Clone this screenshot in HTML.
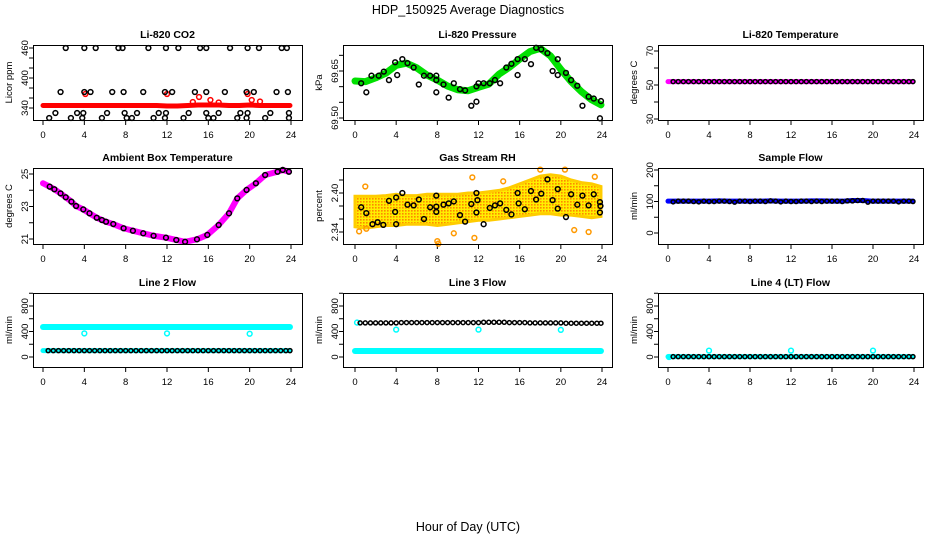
<!DOCTYPE html>
<html><head><meta charset="utf-8"><title>HDP_150925 Average Diagnostics</title>
<style>
html,body{margin:0;padding:0;background:#fff;}
svg{display:block;font-family:"Liberation Sans","DejaVu Sans",sans-serif;}
</style></head>
<body>
<svg id="chart" width="936" height="540" viewBox="0 0 936 540" xmlns="http://www.w3.org/2000/svg">
<defs>
<pattern id="rhpat" width="3" height="3" patternUnits="userSpaceOnUse">
<rect width="3" height="3" fill="#ffee00"/><rect x="0" y="0" width="1.6" height="1.6" fill="#ff8800"/>
</pattern>
</defs>
<rect width="936" height="540" fill="#fff"/>
<text x="468" y="14" font-size="12.5" text-anchor="middle">HDP_150925  Average Diagnostics</text>
<text x="468" y="531" font-size="12.5" text-anchor="middle">Hour of Day (UTC)</text>
</svg>
<script>
// ---------- data ----------
const xTicks = [0,4,8,12,16,20,24];
const halfH = [0.5,1,1.5,2,2.5,3,3.5,4,4.5,5,5.5,6,6.5,7,7.5,8,8.5,9,9.5,10,10.5,11,11.5,12,12.5,13,13.5,14,14.5,15,15.5,16,16.5,17,17.5,18,18.5,19,19.5,20,20.5,21,21.5,22,22.5,23,23.5,23.9];
const bandH = [0,1,2,3,4,5,6,7,8,9,10,11,12,13,14,15,16,17,18,19,20,21,22,23,23.9];

// CO2
const co2H = [2.2,4.0,5.1,7.3,7.7,10.2,11.9,13.1,15.2,15.8,18.1,19.8,20.9,23.1,23.6, 1.7,4.0,4.6,6.7,7.8,9.7,11.8,12.5,14.7,15.8,17.6,19.7,20.4,22.6,23.7, 1.2,3.3,3.9,6.2,7.9,9.1,11.2,11.9,14.1,15.8,17.0,19.1,19.8,22.0,23.8, 0.6,2.7,3.8,5.7,8.1,8.6,10.7,11.8,13.6,16.0,16.5,18.8,19.7,21.5,23.8];
const co2V = [460,460,460,460,460,460,460,460,460,460,460,460,460,460,460, 372,372,372,372,372,372,372,372,372,372,372,372,372,372,372, 330,330,330,330,330,330,330,330,330,330,330,330,330,330,330, 320,320,320,320,320,320,320,320,320,320,320,320,320,320,320];
const co2Band = [345,345,345,345,345,345,345,345,345,345,345,345,344,344,345,346,346,346,345,345,346,345,345,345,345];
const co2RedH = [4.1,12.0,14.5,15.1,16.2,17.0,19.8,20.2,21.0];
const co2RedV = [368,368,352,362,356,351,368,356,353];

// Pressure
const presBand = [69.618,69.616,69.628,69.643,69.668,69.675,69.660,69.637,69.621,69.602,69.590,69.587,69.598,69.608,69.640,69.662,69.688,69.712,69.722,69.698,69.655,69.616,69.584,69.558,69.542];
const presH = [0.6,1.1,1.6,2.3,2.8,3.3,3.9,4.1,4.6,5.1,5.7,6.2,6.7,7.3,7.9,7.9,7.9,8.6,9.1,9.6,10.2,10.7,11.3,11.8,11.8,12.0,12.5,13.1,13.6,14.1,14.7,15.2,15.8,15.8,16.5,17.1,17.6,18.1,18.7,19.2,19.7,19.7,20.5,21.0,21.6,22.1,22.7,23.2,23.9,23.8];
const presV = [69.611,69.582,69.635,69.635,69.648,69.621,69.678,69.637,69.688,69.675,69.661,69.607,69.635,69.635,69.635,69.582,69.621,69.607,69.565,69.611,69.592,69.588,69.539,69.601,69.552,69.611,69.611,69.611,69.621,69.611,69.661,69.673,69.688,69.637,69.688,69.672,69.724,69.719,69.707,69.650,69.688,69.637,69.644,69.621,69.603,69.539,69.568,69.562,69.554,69.499];

// Li-820 temperature
const tempBand = [52,52,52,52,52,52,52,52,52,52,52,52,52,52,52,52,52,52,52,52,52,52,52,52,52];
const tempV = [52,52,52,52,52,52,52,52,52,52,52,52,52,52,52,52,52,52,52,52,52,52,52,52,52,52,52,52,52,52,52,52,52,52,52,52,52,52,52,52,52,52,52,52,52,52,52,52];

// Ambient box temperature
const ambH = [0,0.65,1.1,1.7,2.2,2.75,3.2,3.9,4.5,5.2,5.7,6.1,6.8,7.8,8.7,9.7,10.7,11.9,12.9,13.75,14.9,15.9,17.0,18.0,18.8,19.7,20.6,21.5,22.7,23.2,23.8];
const ambV = [24.43,24.22,24.06,23.81,23.57,23.30,23.03,22.82,22.58,22.31,22.17,22.06,21.92,21.66,21.51,21.35,21.20,21.08,20.94,20.83,20.98,21.25,21.86,22.58,23.50,24.02,24.43,24.94,25.14,25.25,25.14];

// Gas stream RH
const rhLo = [2.348,2.346,2.348,2.350,2.350,2.352,2.352,2.352,2.350,2.352,2.354,2.356,2.358,2.358,2.360,2.362,2.364,2.366,2.368,2.368,2.366,2.366,2.364,2.362,2.364];
const rhHi = [2.395,2.395,2.395,2.396,2.398,2.396,2.396,2.398,2.398,2.398,2.398,2.400,2.400,2.402,2.404,2.408,2.414,2.420,2.426,2.428,2.426,2.420,2.416,2.414,2.410];
const rhOutH = [0.4,1.1,8.0,8.1,9.6,11.6,14.4,11.4,21.3,22.7,23.3,18.0,20.4,1.0];
const rhOutV = [2.341,2.345,2.326,2.322,2.338,2.331,2.418,2.424,2.343,2.340,2.425,2.436,2.436,2.410];
const rhH = [0.6,1.1,1.7,2.2,2.75,3.3,3.9,4.0,4.0,4.6,5.1,5.7,6.2,6.7,7.3,7.9,7.9,7.9,8.6,9.1,9.6,10.2,10.7,11.3,11.8,11.9,11.8,12.5,13.1,13.6,14.1,14.7,15.2,15.8,15.9,16.5,17.1,17.6,18.1,18.7,19.2,19.7,19.7,20.5,21.0,21.6,22.1,22.7,23.2,23.8,23.85,23.8];
const rhV = [2.378,2.369,2.352,2.355,2.351,2.388,2.371,2.352,2.393,2.400,2.382,2.381,2.390,2.360,2.378,2.379,2.371,2.396,2.382,2.384,2.387,2.366,2.356,2.383,2.400,2.389,2.370,2.352,2.377,2.381,2.384,2.374,2.367,2.400,2.384,2.375,2.403,2.390,2.399,2.421,2.389,2.406,2.376,2.363,2.398,2.382,2.396,2.381,2.398,2.386,2.380,2.370];

// Sample flow
const sfBand = [101,101,101,101,101,102,101,101,101,101,102,101,101,101,102,102,101,101,103,103,101,101,101,101,101];
const sfV = [99,101,101,101,100,99,101,100,100,101,101,100,98,101,101,100,101,101,100,102,101,99,101,100,100,101,101,100,101,100,101,101,101,100,102,102,103,103,98,101,101,101,101,101,99,101,101,100];

// Line flows
const l2Hi = [470,470,470,470,470,470,470,470,470,470,470,470,470,470,470,470,470,470,470,470,470,470,470,470,470];
const l2Lo = [100,100,100,100,100,100,100,100,100,100,100,100,100,100,100,100,100,100,100,100,100,100,100,100,100];
const l2V = [100,100,100,100,100,100,100,100,100,100,100,100,100,100,100,100,100,100,100,100,100,100,100,100,100,100,100,100,100,100,100,100,100,100,100,100,100,100,100,100,100,100,100,100,100,100,100,100];
const l2OutH = [4,12,20];
const l2OutV = [370,370,365];

const l3Lo = [95,95,95,95,95,95,95,95,95,95,95,95,95,95,95,95,95,95,95,95,95,95,95,95,95];
const l3V = [535,535,535,535,535,535,535,535,540,540,540,540,540,540,540,540,540,540,540,540,540,540,540,540,545,545,545,545,545,540,540,540,540,535,535,535,535,535,535,535,530,530,530,530,530,530,530,530];
const l3OutH = [0.2,4,12,20];
const l3OutV = [540,430,430,425];

const l4Lo = [5,5,5,5,5,5,5,5,5,5,5,5,5,5,5,5,5,5,5,5,5,5,5,5,5];
const l4V = [5,5,5,5,5,5,5,5,5,5,5,5,5,5,5,5,5,5,5,5,5,5,5,5,5,5,5,5,5,5,5,5,5,5,5,5,5,5,5,5,5,5,5,5,5,5,5,5];
const l4OutH = [0.1,4,12,20];
const l4OutV = [0,100,100,100];

// ---------- drawing ----------
const NS = 'http://www.w3.org/2000/svg';
const svg = document.getElementById('chart');
function mk(tag, attrs, parent){
  const e = document.createElementNS(NS, tag);
  for (const k in attrs) e.setAttribute(k, attrs[k]);
  (parent||svg).appendChild(e);
  return e;
}
function panel(name, title, ytitle, box, xr, yref, yticks, ylabels){
  const g = mk('g', {});
  
  
  const sx = h => xr[0] + (xr[1]-xr[0]) * h / 24;
  const sy = v => yref[1] + (yref[3]-yref[1]) * (v - yref[0]) / (yref[2]-yref[0]);
  const t = mk('text', {x:(box[0]+box[2])/2, y:box[1]-7, 'font-size':10.5, 'font-weight':'bold', 'text-anchor':'middle'}, g);
  t.textContent = title;
  
  
  const yt = mk('text', {x:0, y:0, 'font-size':9.5, 'text-anchor':'middle', transform:`translate(${box[0]-21},${(box[1]+box[3])/2}) rotate(-90)`}, g);
  yt.textContent = ytitle;
  
  
  const ax = mk('g', {stroke:'#000', 'stroke-width':1}, g);
  
  
  mk('line', {x1:sx(0), x2:sx(24), y1:box[3]+0.5, y2:box[3]+0.5}, ax);
  xTicks.forEach(h => {
    mk('line', {x1:sx(h), x2:sx(h), y1:box[3], y2:box[3]+5}, ax);
    const l = mk('text', {x:sx(h), y:box[3]+18, 'font-size':9.5, 'text-anchor':'middle', stroke:'none'}, g);
    l.textContent = h;
    
    
  });
  yticks.forEach(v => mk('line', {x1:box[0]-4, x2:box[0], y1:sy(v), y2:sy(v)}, ax));
  ylabels.forEach(v => {
    const l = mk('text', {x:0, y:0, 'font-size':9.5, 'text-anchor':'middle', transform:`translate(${box[0]-5},${sy(v)}) rotate(-90)`}, g);
    l.textContent = v;
    
    
  });
  const plot = mk('g', {}, g);
  
  
  mk('rect', {x:box[0]+0.5, y:box[1]+0.5, width:box[2]-box[0], height:box[3]-box[1], fill:'none', stroke:'#000'}, g);
  return {g:plot, sx, sy};
}
function band(p, hs, vs, color, w, nm){
  const pl = mk('polyline', {points: hs.map((h,i)=>p.sx(h)+','+p.sy(vs[i])).join(' '), fill:'none', stroke:color, 'stroke-width':w, 'stroke-linecap':'round', 'stroke-linejoin':'round'}, p.g);
  
  
}
function pts(p, hs, vs, color, nm, r){
  hs.forEach((h,i)=>{
    const c = mk('circle', {cx:p.sx(h), cy:p.sy(vs[i]), r:r||2.4, fill:'none', stroke:color, 'stroke-width':1.5}, p.g);
    
    
  });
}
const C1=[33,302], C2=[343,612], C3=[658,923];
const X1=[43,291], X2=[355,602], X3=[668,914];
const R1=[45,120], R2=[168,244], R3=[293,367];

// Panel 1: CO2
let p = panel('co2', 'Li-820 CO2', 'Licor ppm', [C1[0],R1[0],C1[1],R1[1]], X1, [340,108,460,48], [340,360,380,400,420,440,460], [340,400,460]);
band(p, bandH, co2Band, '#ff0000', 5, 'co2-red-series');
pts(p, co2RedH, co2RedV, '#ff0000', 'co2-red-point');
pts(p, co2H, co2V, '#000', 'co2-point');

// Panel 2: pressure
p = panel('pressure', 'Li-820 Pressure', 'kPa', [C2[0],R1[0],C2[1],R1[1]], X2, [69.50,118,69.65,71], [69.50,69.55,69.60,69.65,69.70], ['69.50','69.65']);
band(p, bandH, presBand, '#00e000', 7, 'pressure-green-series');
pts(p, presH, presV, '#000', 'pressure-point');

// Panel 3: Li-820 temperature
p = panel('li820-temp', 'Li-820 Temperature', 'degrees C', [C3[0],R1[0],C3[1],R1[1]], X3, [30,119,70,51], [30,40,50,60,70], [30,50,70]);
band(p, bandH, tempBand, '#ff00ff', 5, 'temp-magenta-series');
pts(p, halfH, tempV, '#000', 'temp-point', 2);

// Panel 4: ambient
p = panel('ambient', 'Ambient Box Temperature', 'degrees C', [C1[0],R2[0],C1[1],R2[1]], X1, [21,239,25,174], [21,22,23,24,25], [21,23,25]);
band(p, ambH, ambV, '#ff00ff', 6, 'ambient-magenta-series');
pts(p, ambH.slice(1), ambV.slice(1), '#000', 'ambient-point');

// Panel 5: RH
p = panel('rh', 'Gas Stream RH', 'percent', [C2[0],R2[0],C2[1],R2[1]], X2, [2.34,232,2.40,193], [2.34,2.36,2.38,2.40,2.42], ['2.34','2.40']);
const rhPoly = mk('polygon', {points: bandH.map((h,i)=>p.sx(h)+','+p.sy(rhHi[i])).concat(bandH.slice().reverse().map((h,j)=>p.sx(h)+','+p.sy(rhLo[bandH.length-1-j]))).join(' '), fill:'url(#rhpat)', stroke:'#ffcc00', 'stroke-width':3}, p.g);


pts(p, rhOutH, rhOutV, '#ff9900', 'rh-orange-point');
pts(p, rhH, rhV, '#000', 'rh-point');

// Panel 6: sample flow
p = panel('sample-flow', 'Sample Flow', 'ml/min', [C3[0],R2[0],C3[1],R2[1]], X3, [0,233,200,170], [0,50,100,150,200], [0,100,200]);
band(p, bandH, sfBand, '#0000ff', 5, 'sample-flow-blue-series');
pts(p, halfH, sfV, '#000', 'sample-flow-point', 2);

// Panel 7: line 2
p = panel('line2-flow', 'Line 2 Flow', 'ml/min', [C1[0],R3[0],C1[1],R3[1]], X1, [0,357,800,306], [0,200,400,600,800,1000], [0,400,800]);
band(p, bandH, l2Hi, '#00ffff', 6, 'line2-cyan-high-series');
band(p, bandH, l2Lo, '#00ffff', 5, 'line2-cyan-low-series');
pts(p, l2OutH, l2OutV, '#00ffff', 'line2-cyan-point');
pts(p, halfH, l2V, '#000', 'line2-point', 2);

// Panel 8: line 3
p = panel('line3-flow', 'Line 3 Flow', 'ml/min', [C2[0],R3[0],C2[1],R3[1]], X2, [0,357,800,306], [0,200,400,600,800,1000], [0,400,800]);
band(p, bandH, l3Lo, '#00ffff', 6, 'line3-cyan-series');
pts(p, l3OutH, l3OutV, '#00ffff', 'line3-cyan-point');
pts(p, halfH, l3V, '#000', 'line3-point', 2);

// Panel 9: line 4
p = panel('line4-flow', 'Line 4 (LT) Flow', 'ml/min', [C3[0],R3[0],C3[1],R3[1]], X3, [0,357,800,306], [0,200,400,600,800,1000], [0,400,800]);
band(p, bandH, l4Lo, '#00ffff', 5, 'line4-cyan-series');
pts(p, l4OutH, l4OutV, '#00ffff', 'line4-cyan-point');
pts(p, halfH, l4V, '#000', 'line4-point', 2);
</script>
</body></html>
